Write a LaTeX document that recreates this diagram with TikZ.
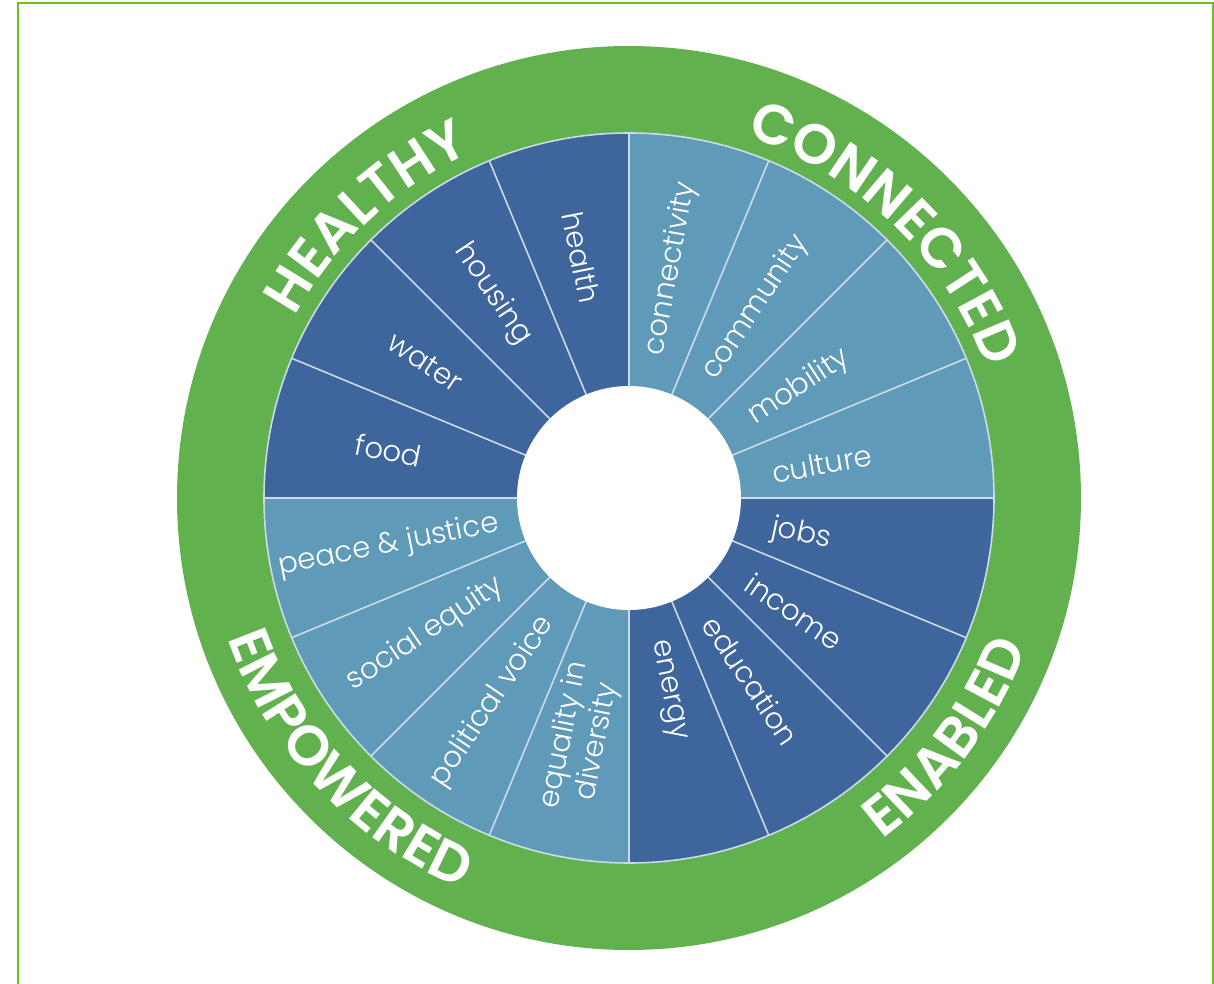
\documentclass[tikz,border=0pt]{standalone}
\usepackage{fontspec}
\usetikzlibrary{decorations.text}

\IfFontExistsTF{Poppins Light}
  {\newfontfamily\wheelfont{Poppins Light}}
  {\newfontfamily\wheelfont{Poppins}}
\IfFontExistsTF{Poppins SemiBold}
  {\newfontfamily\ringfont{Poppins SemiBold}[LetterSpace=4]}
  {\newfontfamily\ringfont{Poppins Bold}[LetterSpace=2]}

\definecolor{ringgreen}{RGB}{98,177,79}
\definecolor{framegreen}{RGB}{108,190,36}
\definecolor{darkseg}{RGB}{62,101,156}
\definecolor{lightseg}{RGB}{95,154,185}
\definecolor{spoke}{RGB}{205,219,232}

\begin{document}
\begin{tikzpicture}[
  spokeline/.style = {draw = spoke, line width = 0.45pt},
  segtext/.style = {text = white, inner sep = 0pt, align = center,
    font = \wheelfont\fontsize{8.3}{9.6}\selectfont},
  ringtext/.style = {decorate, decoration = {text along path,
    text align = center, text color = white}}
]

\useasboundingbox (0,0) rectangle (12.14,-9.84);
\draw[framegreen, line width = 0.75pt] (0.18,-0.03) rectangle (12.13,-10.3);

\coordinate (c) at (6.29,-4.98);

\fill[ringgreen] (c) circle[radius = 4.52];

\foreach \a/\col in {0/lightseg, 90/darkseg, 180/lightseg, 270/darkseg}
  \fill[\col] (c) -- ++(\a:3.65) arc[start angle = \a, end angle = \a+90, radius = 3.65] -- cycle;

\foreach \a in {0,22.5,...,337.5}
  \draw[spokeline] (c) -- ++(\a:3.65);
\draw[spokeline] (c) circle[radius = 3.65];

\fill[white] (c) circle[radius = 1.12];

\foreach \a/\txt [count = \n] in {10/culture, 33/mobility, 56.25/community,
    79.5/connectivity, -12/jobs, -34.5/income, -56.25/education, -78.75/energy}
  \path (c) ++(\a:1.45) node[segtext, anchor = west, rotate = \a] (right\n) {\txt};

\foreach \a/\txt [count = \n] in {101.25/health, 123.75/housing, 146.25/water,
    168.75/food, 191.25/peace \& justice, 213.75/social equity,
    236.25/political voice, 258.75/{equality in\\diversity}}
  \path (c) ++(\a:2.45) node[segtext, rotate = \a+180] (left\n) {\txt};

\path[ringtext, decoration = {text = {|\ringfont\fontsize{16}{16}\selectfont|HEALTHY}}]
  (c) ++(173:3.8) arc[start angle = 173, end angle = 93, radius = 3.8];
\path[ringtext, decoration = {text = {|\ringfont\fontsize{16}{16}\selectfont|CONNECTED}}]
  (c) ++(86:3.8) arc[start angle = 86, end angle = 6, radius = 3.8];
\path[ringtext, decoration = {text = {|\ringfont\fontsize{16}{16}\selectfont|EMPOWERED}}]
  (c) ++(183:4.25) arc[start angle = 183, end angle = 263, radius = 4.25];
\path[ringtext, decoration = {text = {|\ringfont\fontsize{16}{16}\selectfont|ENABLED}}]
  (c) ++(-77:4.25) arc[start angle = -77, end angle = 3, radius = 4.25];

\end{tikzpicture}
\end{document}
